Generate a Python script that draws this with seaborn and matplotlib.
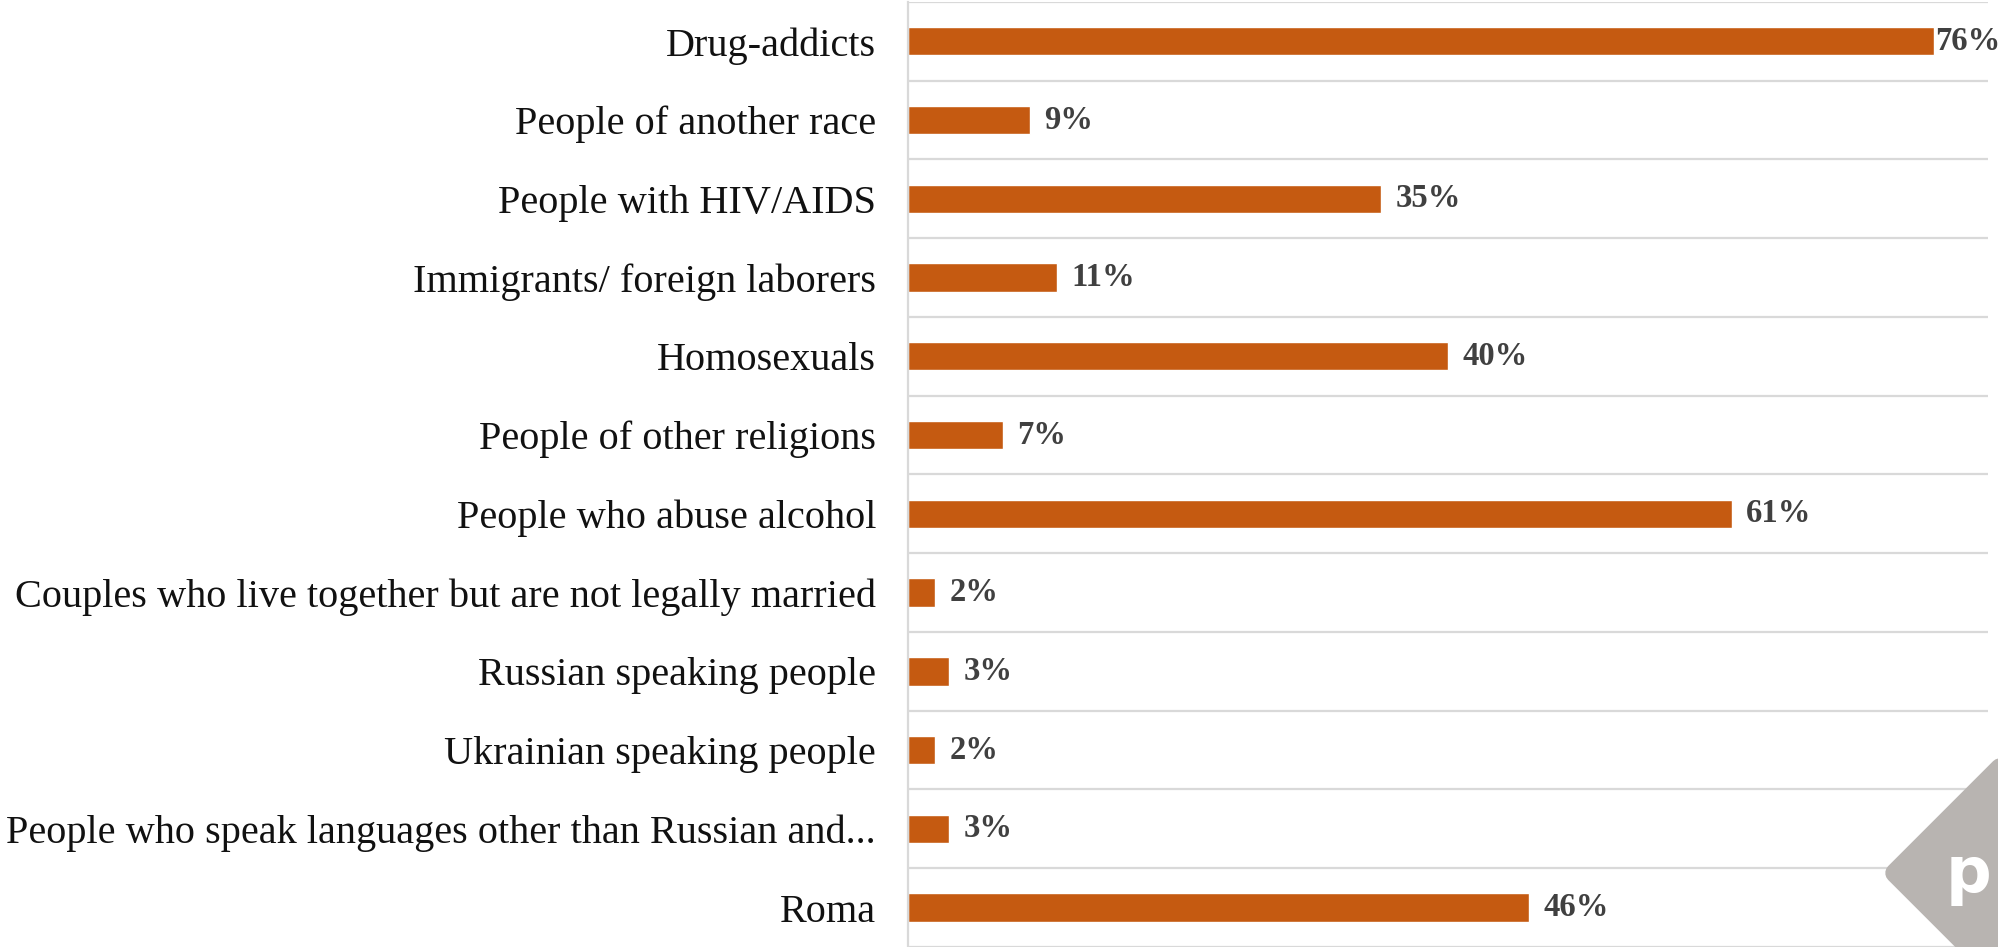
import numpy as np
import pandas as pd
import matplotlib
matplotlib.use("Agg")
import matplotlib.pyplot as plt
from matplotlib.patches import Polygon, Circle
import seaborn as sns

categories = [
    "Drug-addicts",
    "People of another race",
    "People with HIV/AIDS",
    "Immigrants/ foreign laborers",
    "Homosexuals",
    "People of other religions",
    "People who abuse alcohol",
    "Couples who live together but are not legally married",
    "Russian speaking people",
    "Ukrainian speaking people",
    "People who speak languages other than Russian and...",
    "Roma",
]
values = [76, 9, 35, 11, 40, 7, 61, 2, 3, 2, 3, 46]

df = pd.DataFrame({"group": categories, "share": values})

sns.set_style("white")
plt.rcParams["font.family"] = ["Liberation Serif", "DejaVu Serif"]

fig = plt.figure(figsize=(19.98, 9.47), dpi=100)
ax = fig.add_axes([908 / 1998, 0.0, 1080 / 1998, 0.998])

sns.barplot(data=df, x="share", y="group", color="#C55A11", saturation=1,
            width=0.36, ax=ax, orient="h")

ax.set_xlim(0, 80)
ax.set_ylim(11.5, -0.5)
ax.set_xlabel("")
ax.set_ylabel("")
ax.set_xticks([])
ax.set_yticks(np.arange(-0.5, 12), minor=True)
ax.tick_params(axis="y", which="both", length=0, pad=23, labelsize=29,
               labelcolor="#111111")
ax.grid(which="minor", axis="y", color="#D9D9D9", linewidth=1.6)
ax.grid(which="major", axis="y", visible=False)
for s in ["top", "right", "bottom"]:
    ax.spines[s].set_visible(False)
ax.spines["left"].set_color("#D9D9D9")
ax.spines["left"].set_linewidth(1.6)

for i, v in enumerate(values):
    pad = 0.05 if v > 70 else 1.1
    ax.text(v + pad, i, f"{v}%", va="center", ha="left", fontsize=23.5,
            fontweight="bold", color="#404040")

# watermark logo in the corner
W, H = 1998, 947
cx, cy, r = 2000, 873, 105
diamond = Polygon([((cx - r) / W, 1 - cy / H), (cx / W, 1 - (cy - r) / H),
                   ((cx + r) / W, 1 - cy / H), (cx / W, 1 - (cy + r) / H)],
                  closed=True, transform=fig.transFigure, facecolor="#B8B4B1",
                  edgecolor="#B8B4B1", linewidth=14, joinstyle="round", zorder=5)
fig.patches.append(diamond)
bump = Ellipse = Circle((1998 / W, 1 - 792 / H), 24 / W, transform=fig.transFigure,
                        facecolor="#B8B4B1", edgecolor="none", zorder=5)
fig.patches.append(bump)
fig.text(1946 / W, 1 - 875 / H, "p", color="white", fontsize=46,
         fontweight="bold", family="DejaVu Sans", va="center", ha="left", zorder=6)

fig.savefig("out.png", dpi=100)
